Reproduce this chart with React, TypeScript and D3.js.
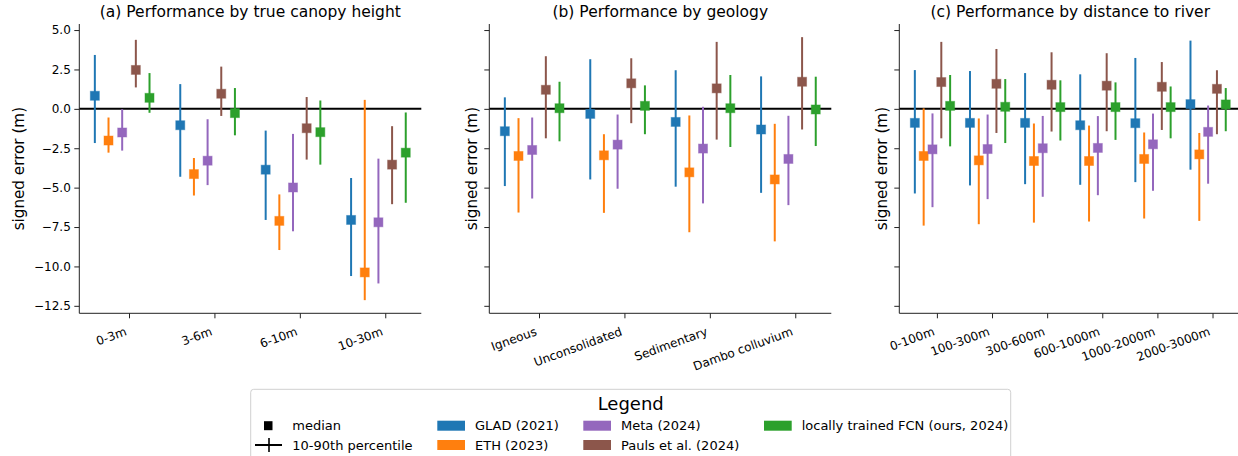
import React, { useRef, useEffect } from 'react';
import * as d3 from 'd3';

// categories per panel
const heightCats = ['0-3m', '3-6m', '6-10m', '10-30m'];
const geologyCats = ['Igneous', 'Unconsolidated', 'Sedimentary', 'Dambo colluvium'];
const riverCats = ['0-100m', '100-300m', '300-600m', '600-1000m', '1000-2000m', '2000-3000m'];

// model order: GLAD, ETH, Meta, Pauls, FCN
const models = ['GLAD (2021)', 'ETH (2023)', 'Meta (2024)', 'Pauls et al. (2024)', 'locally trained FCN (ours, 2024)'];
const modelColors = ['#1f77b4', '#ff7f0e', '#9467bd', '#8c564b', '#2ca02c'];

// (a) true canopy height
const heightMedian = [
  [0.83, -1.04, -3.86, -7.05],
  [-2.01, -4.14, -7.11, -10.38],
  [-1.5, -3.29, -4.99, -7.2],
  [2.47, 0.96, -1.23, -3.54],
  [0.7, -0.27, -1.48, -2.78],
];
const heightP10 = [
  [-2.17, -4.31, -7.05, -10.61],
  [-2.78, -5.5, -8.96, -12.14],
  [-2.65, -4.84, -7.77, -11.08],
  [1.36, -0.45, -3.22, -6.05],
  [-0.25, -1.68, -3.54, -5.96],
];
const heightP90 = [
  [3.42, 1.57, -1.38, -4.39],
  [-0.55, -3.12, -5.43, 0.57],
  [-0.02, -0.66, -1.59, -3.16],
  [4.38, 2.68, 0.75, -1.1],
  [2.27, 1.32, 0.53, -0.23],
];

// (b) geology
const geologyMedian = [
  [-1.42, -0.32, -0.83, -1.31],
  [-2.99, -2.95, -4.03, -4.48],
  [-2.61, -2.27, -2.52, -3.18],
  [1.21, 1.62, 1.3, 1.72],
  [0.04, 0.19, 0.04, -0.04],
];
const geologyP10 = [
  [-4.9, -4.48, -4.94, -5.33],
  [-6.58, -6.6, -7.83, -8.41],
  [-5.69, -5.07, -6.0, -6.11],
  [-1.87, -0.91, -1.95, -1.31],
  [-2.06, -1.61, -2.42, -2.36],
];
const geologyP90 = [
  [0.73, 3.15, 2.45, 2.06],
  [-0.59, -1.61, -0.42, -0.95],
  [-0.55, -0.36, 0.13, -0.44],
  [3.34, 3.21, 4.25, 4.55],
  [1.72, 1.49, 2.15, 2.04],
];

// (c) distance to river
const riverMedian = [
  [-0.89, -0.89, -0.89, -1.04, -0.91, 0.3],
  [-2.99, -3.27, -3.31, -3.31, -3.18, -2.89],
  [-2.57, -2.55, -2.5, -2.48, -2.25, -1.46],
  [1.7, 1.59, 1.53, 1.47, 1.4, 1.27],
  [0.19, 0.13, 0.11, 0.11, 0.11, 0.28],
];
const riverP10 = [
  [-5.37, -4.86, -4.78, -4.82, -4.65, -3.86],
  [-7.41, -7.32, -7.22, -7.15, -6.96, -7.11],
  [-6.24, -5.73, -5.58, -5.48, -5.2, -4.75],
  [-1.87, -1.53, -1.44, -1.42, -1.34, -1.61],
  [-2.38, -2.17, -2.01, -1.97, -1.87, -1.42],
];
const riverP90 = [
  [2.46, 2.4, 2.27, 2.19, 3.23, 4.33],
  [0.03, -0.61, -0.93, -1.06, -1.5, -1.53],
  [-0.29, -0.36, -0.45, -0.46, -0.3, 0.21],
  [4.25, 3.8, 3.59, 3.53, 2.97, 2.45],
  [2.15, 1.89, 1.81, 1.68, 1.42, 1.32],
];

const yTicks = [5, 2.5, 0, -2.5, -5, -7.5, -10, -12.5];

const panels = [
  { title: '(a) Performance by true canopy height', cats: heightCats, med: heightMedian, lo: heightP10, hi: heightP90 },
  { title: '(b) Performance by geology', cats: geologyCats, med: geologyMedian, lo: geologyP10, hi: geologyP90 },
  { title: '(c) Performance by distance to river', cats: riverCats, med: riverMedian, lo: riverP10, hi: riverP90 },
];

const FONT = 'DejaVu Sans';
const W = 1238;
const H = 456;

function App() {
  const svgRef = useRef<SVGSVGElement | null>(null);

  useEffect(() => {
    const svg = d3.select(svgRef.current);
    svg.selectAll('*').remove();

    const lefts = [79.3, 489.3, 899.3];
    const axW = 342;
    const top = 24;
    const bottom = 313.3;
    const step = 0.16;

    // shared y range with matplotlib-like 5% padding
    const allLo = d3.min(panels.flatMap(p => p.lo.flat())) as number;
    const allHi = d3.max(panels.flatMap(p => p.hi.flat())) as number;
    const pad = (allHi - allLo) * 0.05;
    const y = d3.scaleLinear().domain([allLo - pad, allHi + pad]).range([bottom, top]);

    panels.forEach((p, pi) => {
      const n = p.cats.length;
      const xmin = -2.5 * step;
      const xmax = n - 1 + 1.5 * step;
      const m = (xmax - xmin) * 0.05;
      const x = d3.scaleLinear().domain([xmin - m, xmax + m]).range([lefts[pi], lefts[pi] + axW]);
      const g = svg.append('g');

      // zero line
      g.append('line')
        .attr('x1', x.range()[0]).attr('x2', x.range()[1])
        .attr('y1', y(0)).attr('y2', y(0))
        .attr('stroke', '#000').attr('stroke-width', 2);

      // error bars + medians
      p.med.forEach((row, mi) => {
        const off = (mi - 2.5) * step;
        const col = modelColors[mi];
        row.forEach((v, ci) => {
          const cx = x(ci + off);
          g.append('line')
            .attr('x1', cx).attr('x2', cx)
            .attr('y1', y(p.lo[mi][ci])).attr('y2', y(p.hi[mi][ci]))
            .attr('stroke', col).attr('stroke-width', 2);
          g.append('rect')
            .attr('x', cx - 4.5).attr('y', y(v) - 4.5)
            .attr('width', 9).attr('height', 9)
            .attr('fill', col)
            .attr('stroke', col).attr('stroke-opacity', 0.45).attr('stroke-width', 1);
        });
      });

      // y axis
      const yAxis = g.append('g')
        .attr('transform', `translate(${lefts[pi]},0)`)
        .call(d3.axisLeft(y).tickValues(yTicks).tickSize(5).tickPadding(3.5)
          .tickFormat(pi === 0 ? (d => d3.format('.1f')(d as number).replace('-', '\u2212')) : () => ''));
      yAxis.select('.domain').attr('d', `M0,${top}V${bottom}`).attr('stroke', '#222');
      yAxis.selectAll('.tick line').attr('stroke', '#222');
      yAxis.selectAll('text').attr('font-family', FONT).attr('font-size', 12).attr('fill', '#000');

      // x axis
      const xAxis = g.append('g')
        .attr('transform', `translate(0,${bottom})`)
        .call(d3.axisBottom(x).tickValues(d3.range(n)).tickSize(5).tickFormat(() => ''));
      xAxis.select('.domain').attr('d', `M${lefts[pi]},0H${lefts[pi] + axW}`).attr('stroke', '#222');
      xAxis.selectAll('.tick line').attr('stroke', '#222');

      g.selectAll('.xlab')
        .data(p.cats)
        .enter()
        .append('text')
        .attr('transform', (_d, i) => `translate(${x(i) - 1.5},${bottom + 21.5}) rotate(-20)`)
        .attr('text-anchor', 'end')
        .attr('font-family', FONT)
        .attr('font-size', 12)
        .attr('fill', '#000')
        .text(d => d);

      // y label
      const labX = pi === 0 ? 18.3 : lefts[pi] - 17.5;
      g.append('text')
        .attr('transform', `translate(${labX},${(top + bottom) / 2}) rotate(-90)`)
        .attr('text-anchor', 'middle')
        .attr('dy', '0.35em')
        .attr('font-family', FONT)
        .attr('font-size', 15.2)
        .text('signed error (m)');

      // title
      g.append('text')
        .attr('x', lefts[pi] + axW / 2)
        .attr('y', 16.5)
        .attr('text-anchor', 'middle')
        .attr('font-family', FONT)
        .attr('font-size', 15.5)
        .text(p.title);
    });

    // legend
    const lg = svg.append('g');
    lg.append('rect')
      .attr('x', 250.7).attr('y', 389.3)
      .attr('width', 760).attr('height', 90)
      .attr('rx', 3)
      .attr('fill', '#fff').attr('fill-opacity', 0.8)
      .attr('stroke', '#d0d0d0').attr('stroke-width', 1);
    lg.append('text')
      .attr('x', 630.7).attr('y', 410)
      .attr('text-anchor', 'middle')
      .attr('font-family', FONT)
      .attr('font-size', 18)
      .text('Legend');

    const row1 = 425.7;
    const row2 = 445;
    const addText = (tx: number, ty: number, s: string) => {
      lg.append('text')
        .attr('x', tx).attr('y', ty).attr('dy', '0.36em')
        .attr('font-family', FONT).attr('font-size', 13).attr('fill', '#000')
        .text(s);
    };

    // median / percentile handles
    lg.append('rect').attr('x', 264).attr('y', row1 - 4.5).attr('width', 8.5).attr('height', 9).attr('fill', '#000');
    addText(292.3, row1, 'median');
    lg.append('line').attr('x1', 255).attr('x2', 282).attr('y1', row2).attr('y2', row2)
      .attr('stroke', '#000').attr('stroke-width', 2);
    lg.append('line').attr('x1', 269).attr('x2', 269).attr('y1', row2 - 7).attr('y2', row2 + 7)
      .attr('stroke', '#000').attr('stroke-width', 1.6);
    addText(292.3, row2, '10-90th percentile');

    const patchPos = [
      { px: 437.3, tx: 475, ty: row1 },
      { px: 437.3, tx: 475, ty: row2 },
      { px: 583.3, tx: 621, ty: row1 },
      { px: 583.3, tx: 621, ty: row2 },
      { px: 764, tx: 801.7, ty: row1 },
    ];
    models.forEach((name, i) => {
      const pp = patchPos[i];
      lg.append('rect')
        .attr('x', pp.px).attr('y', pp.ty - 5)
        .attr('width', 27.7).attr('height', 10)
        .attr('fill', modelColors[i]);
      addText(pp.tx, pp.ty, name);
    });
  }, []);

  return (
    <svg
      ref={svgRef}
      width={W}
      height={H}
      style={{ position: 'absolute', left: 0, top: 0, background: '#fff' }}
    />
  );
}

export default App;
